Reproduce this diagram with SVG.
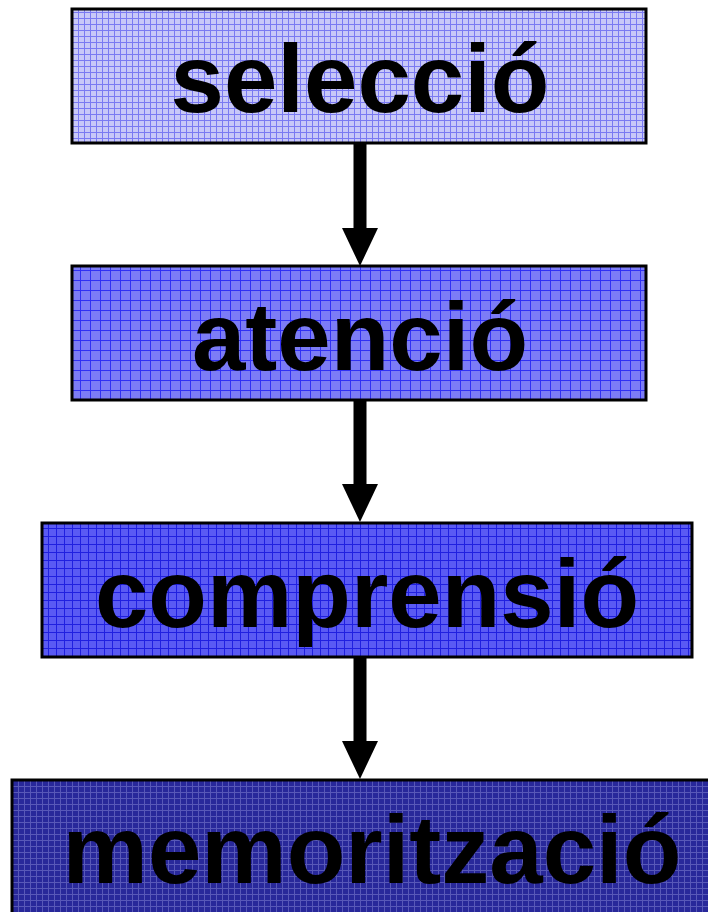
<svg xmlns="http://www.w3.org/2000/svg" width="708" height="912" viewBox="0 0 708 912">
  <style>
    .box { stroke: #000; stroke-width: 3; }
    .lbl { font-family: "Liberation Sans", Arial, sans-serif; font-weight: bold; font-size: 96px; fill: #000; text-anchor: middle; }
    .conn { stroke: #000; stroke-width: 13; fill: none; }
  </style>
  <defs>
    <pattern id="p1" width="6" height="6" patternUnits="userSpaceOnUse">
      <rect width="6" height="6" fill="#c8c8f8"/>
      <path d="M0 0.5H6M0.5 0V6" stroke="#7a7af2" stroke-width="1"/>
    </pattern>
    <pattern id="p2" width="10" height="10" patternUnits="userSpaceOnUse">
      <rect width="10" height="10" fill="#7c7cf6"/>
      <path d="M0 0.5H10M0.5 0V10" stroke="#3030f4" stroke-width="1"/>
    </pattern>
    <pattern id="p3" width="8" height="8" patternUnits="userSpaceOnUse">
      <rect width="8" height="8" fill="#5a5af4"/>
      <path d="M0 0.5H8M0.5 0V8" stroke="#2020e0" stroke-width="1"/>
    </pattern>
    <pattern id="p4" width="6" height="6" patternUnits="userSpaceOnUse">
      <rect width="6" height="6" fill="#28289a"/>
      <path d="M0 0.5H6M0.5 0V6" stroke="#5858b8" stroke-width="1"/>
    </pattern>
    <marker id="arr" markerUnits="userSpaceOnUse" viewBox="0 0 38 36" refX="0" refY="18" markerWidth="38" markerHeight="36" orient="auto">
      <path d="M0 0L38 18L0 36Z" fill="#000"/>
    </marker>
  </defs>
  <rect width="708" height="912" fill="#fff"/>
  <g id="connectors">
    <line class="conn" x1="360" y1="144" x2="360" y2="228" marker-end="url(#arr)"/>
    <line class="conn" x1="360" y1="401" x2="360" y2="484" marker-end="url(#arr)"/>
    <line class="conn" x1="360" y1="658" x2="360" y2="741" marker-end="url(#arr)"/>
  </g>
  <g id="seleccio">
    <rect class="box" x="72" y="9" width="574" height="134" fill="url(#p1)"/>
    <text class="lbl" x="360" y="112">selecció</text>
  </g>
  <g id="atencio">
    <rect class="box" x="72" y="266" width="574" height="134" fill="url(#p2)"/>
    <text class="lbl" x="360" y="370">atenció</text>
  </g>
  <g id="comprensio">
    <rect class="box" x="42" y="523" width="650" height="134" fill="url(#p3)"/>
    <text class="lbl" x="367" y="627">comprensió</text>
  </g>
  <g id="memoritzacio">
    <rect class="box" x="12" y="780" width="722" height="140" fill="url(#p4)"/>
    <text class="lbl" x="372" y="883">memorització</text>
  </g>
</svg>
